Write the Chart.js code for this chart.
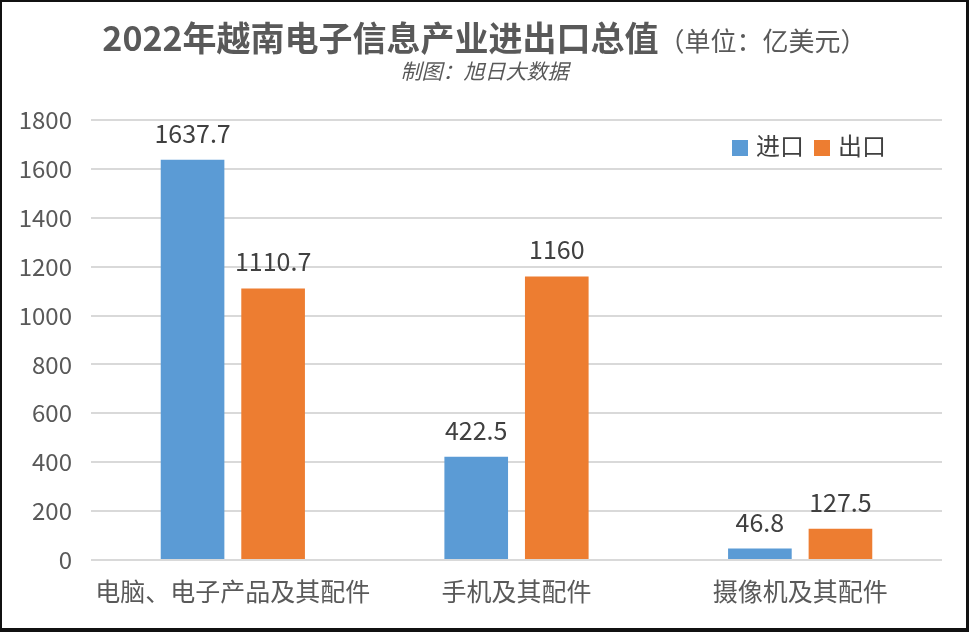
<!DOCTYPE html>
<html>
<head>
<meta charset="utf-8">
<script src="https://cdn.jsdelivr.net/npm/chart.js@4/dist/chart.umd.min.js"></script>
<style>
  html, body { margin: 0; padding: 0; background: #fff; }
  #wrap { position: relative; width: 969px; height: 632px; overflow: hidden; background: #fff; }
  #frame { position: absolute; left: 0; top: 0; width: 969px; height: 632px; box-sizing: border-box;
           border-style: solid; border-color: #111; border-width: 2px 3px 4px 2px; pointer-events: none; }
  canvas { position: absolute; left: 0; top: 0; }
  #title { position: absolute; left: 0; width: 969px; top: 13px; text-align: center; color: #595959;
           font-family: "Noto Sans CJK SC", sans-serif; font-size: 34px; font-weight: bold; line-height: 48px; }
  #title span { font-size: 26px; font-weight: normal; }
  #sub { position: absolute; left: 0; width: 969px; top: 57px; text-align: center; color: #595959;
         font-family: "Noto Sans CJK SC", sans-serif; font-size: 21px; font-style: italic; line-height: 26px; }
  #legend { position: absolute; left: 732px; top: 131px; font-family: "Noto Sans CJK SC", sans-serif;
            font-size: 24px; color: #404040; line-height: 28px; white-space: nowrap; }
  #legend i { display: inline-block; width: 16px; height: 16px; vertical-align: -1px; margin-right: 8px; }
</style>
</head>
<body>
<div id="wrap">
  <canvas id="c" width="969" height="632"></canvas>
  <div id="title">2022年越南电子信息产业进出口总值<span>（单位：亿美元）</span></div>
  <div id="sub">制图：旭日大数据</div>
  <div id="legend"></div>
  <div id="frame"></div>
</div>
<script>
const categories = ["电脑、电子产品及其配件", "手机及其配件", "摄像机及其配件"];
const seriesNames = ["进口", "出口"];
const importValues = [1637.7, 422.5, 46.8];
const exportValues = [1110.7, 1160, 127.5];
const seriesColors = ["#5B9BD5", "#ED7D31"];

const legendEl = document.getElementById('legend');
legendEl.innerHTML = seriesNames.map((n, i) =>
  '<i style="background:' + seriesColors[i] + '"></i>' + n).join('<span style="display:inline-block;width:10px"></span>');

const valueLabels = {
  id: 'valueLabels',
  afterDatasetsDraw(chart) {
    const ctx = chart.ctx;
    ctx.save();
    ctx.font = '25px "Noto Sans CJK SC", sans-serif';
    ctx.fillStyle = '#404040';
    ctx.textAlign = 'center';
    ctx.textBaseline = 'bottom';
    chart.data.datasets.forEach((ds, di) => {
      const meta = chart.getDatasetMeta(di);
      meta.data.forEach((bar, i) => {
        ctx.fillText(String(ds.data[i]), bar.x, bar.y - 14);
      });
    });
    ctx.restore();
  }
};

new Chart(document.getElementById('c'), {
  type: 'bar',
  data: {
    labels: categories,
    datasets: [
      { label: seriesNames[0], data: importValues, backgroundColor: seriesColors[0] },
      { label: seriesNames[1], data: exportValues, backgroundColor: seriesColors[1] }
    ]
  },
  options: {
    responsive: false,
    animation: false,
    devicePixelRatio: 1,
    layout: { padding: { left: 0, right: 27, top: 120, bottom: 0 } },
    plugins: { legend: { display: false }, title: { display: false }, tooltip: { enabled: false } },
    datasets: { bar: { categoryPercentage: 0.568, barPercentage: 0.79 } },
    scales: {
      x: {
        grid: { display: false },
        border: { display: false },
        ticks: { color: '#595959', font: { family: '"Noto Sans CJK SC", sans-serif', size: 25 }, padding: 8, maxRotation: 0, autoSkip: false },
        afterFit(s) { s.height = 72; }
      },
      y: {
        min: 0, max: 1800,
        grid: { color: '#d9d9d9', lineWidth: 2, drawTicks: false },
        border: { display: false },
        ticks: { stepSize: 200, color: '#595959', font: { family: '"Noto Sans CJK SC", sans-serif', size: 24 }, padding: 19,
                 callback: (v) => String(v) },
        afterFit(s) { s.width = 91; }
      }
    }
  },
  plugins: [valueLabels]
});
</script>
</body>
</html>
